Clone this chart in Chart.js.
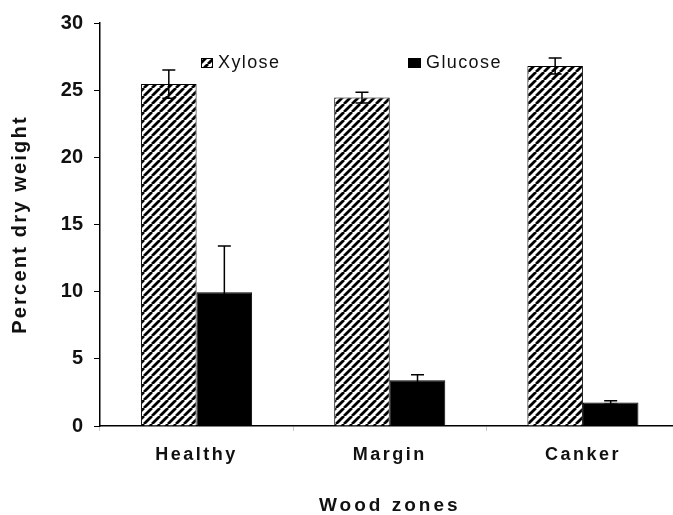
<!DOCTYPE html>
<html>
<head>
<meta charset="utf-8">
<script src="https://cdn.jsdelivr.net/npm/chart.js@4/dist/chart.umd.min.js"></script>
<style>
  html, body { margin: 0; padding: 0; background: #ffffff; }
  #wrap { width: 673px; height: 515px; overflow: hidden; position: relative; background: #fff; }
  canvas { display: block; }
</style>
</head>
<body>
<div id="wrap"><canvas id="c" width="690" height="515"></canvas></div>
<script>
// ---- data ----
const categories = ['Healthy', 'Margin', 'Canker'];
const seriesNames = ['Xylose', 'Glucose'];
const xylose = [25.45, 24.45, 26.8];
const glucose = [9.95, 3.4, 1.75];
const xyloseErr = [1.05, 0.4, 0.6];
const glucoseErr = [3.45, 0.42, 0.13];
const yTicks = [0, 5, 10, 15, 20, 25, 30];
const xTitle = 'Wood zones';
const yTitle = 'Percent dry weight';

const FONT = '"Liberation Sans", Arial, sans-serif';
const INK = '#111111';

// hatch pattern "/"
function makeHatch(p, lw) {
  const pc = document.createElement('canvas');
  pc.width = p; pc.height = p;
  const g = pc.getContext('2d');
  g.fillStyle = '#ffffff';
  g.fillRect(0, 0, p, p);
  g.strokeStyle = '#000000';
  g.lineWidth = lw;
  g.beginPath();
  for (let k = -1; k <= 1; k++) {
    g.moveTo(k * p, p);
    g.lineTo(k * p + p, 0);
  }
  g.stroke();
  return g.createPattern(pc, 'repeat');
}
const ctx0 = document.getElementById('c').getContext('2d');
const hatch = makeHatch(8, 2.8);

const errs = [xyloseErr, glucoseErr];

const spacingPlugin = {
  id: 'spacing',
  beforeDraw(chart) {
    const wrap = (obj, fn, sp) => {
      if (obj['_p_' + fn]) return;
      const orig = obj[fn];
      obj['_p_' + fn] = true;
      obj[fn] = function (...a) {
        const c = this.ctx;
        const prev = c.letterSpacing;
        c.letterSpacing = sp;
        const r = orig.apply(this, a);
        c.letterSpacing = prev;
        return r;
      };
    };
    wrap(chart.scales.x, 'drawLabels', '2.5px');
    wrap(chart.scales.x, 'drawTitle', '3px');
    wrap(chart.scales.y, 'drawTitle', '2.2px');
  }
};

const errorBarPlugin = {
  id: 'errorBars',
  afterDatasetsDraw(chart) {
    const ctx = chart.ctx;
    const ys = chart.scales.y;
    ctx.save();
    ctx.strokeStyle = '#000';
    ctx.lineWidth = 1.5;
    chart.data.datasets.forEach((ds, i) => {
      const meta = chart.getDatasetMeta(i);
      meta.data.forEach((bar, j) => {
        const v = ds.data[j], e = errs[i][j];
        const yT = ys.getPixelForValue(v + e);
        const yB = ys.getPixelForValue(v - e);
        const hw = 6.5;
        ctx.beginPath();
        ctx.moveTo(bar.x, yT); ctx.lineTo(bar.x, yB);
        ctx.moveTo(bar.x - hw, yT); ctx.lineTo(bar.x + hw, yT);
        ctx.moveTo(bar.x - hw, yB); ctx.lineTo(bar.x + hw, yB);
        ctx.stroke();
      });
    });
    ctx.restore();
  }
};

const legendPlugin = {
  id: 'insideLegend',
  afterDraw(chart) {
    const ctx = chart.ctx;
    ctx.save();
    ctx.letterSpacing = '1.4px';
    ctx.font = '18px ' + FONT;
    ctx.textBaseline = 'alphabetic';
    ctx.lineWidth = 1;
    ctx.strokeStyle = '#000';
    // Xylose
    ctx.fillStyle = hatch;
    ctx.fillRect(201, 58, 12, 10);
    ctx.strokeRect(201.5, 58.5, 11, 9);
    ctx.fillStyle = INK;
    ctx.fillText(chart.data.datasets[0].label, 218, 68);
    // Glucose
    ctx.fillStyle = '#000';
    ctx.fillRect(408, 58, 13, 10);
    ctx.fillStyle = INK;
    ctx.fillText(chart.data.datasets[1].label, 426, 68);
    ctx.restore();
  }
};

new Chart(ctx0, {
  type: 'bar',
  data: {
    labels: categories,
    datasets: [
      { label: seriesNames[0], data: xylose, backgroundColor: hatch, borderColor: '#000', borderWidth: 1 },
      { label: seriesNames[1], data: glucose, backgroundColor: '#000', borderColor: '#000', borderWidth: 1 }
    ]
  },
  options: {
    responsive: false,
    devicePixelRatio: 1,
    animation: false,
    categoryPercentage: 0.575,
    barPercentage: 1.0,
    layout: { padding: { left: 0, right: 10.5, top: 23, bottom: 0 } },
    plugins: { legend: { display: false }, tooltip: { enabled: false } },
    scales: {
      x: {
        afterFit(s) { s.height = 89; },
        grid: { display: true, drawOnChartArea: false, drawTicks: true, tickLength: 5, color: '#c8c8c8', offset: true },
        border: { display: true, color: '#000', width: 1.5 },
        ticks: { color: INK, padding: 13, font: { family: FONT, size: 18, weight: 'bold' } },
        title: { display: true, text: xTitle, color: INK, padding: { top: 0, bottom: 0 }, font: { family: FONT, size: 19, weight: 'bold', lineHeight: 1 } }
      },
      y: {
        min: 0, max: 30,
        afterFit(s) { s.width = 100; },
        afterBuildTicks(s) { s.ticks = yTicks.map(v => ({ value: v })); },
        grid: { display: true, drawOnChartArea: false, drawTicks: true, tickLength: 6, color: '#000', lineWidth: 1 },
        border: { display: true, color: '#000', width: 1.5 },
        ticks: { color: INK, padding: 11, font: { family: FONT, size: 20, weight: 'bold' } },
        title: { display: true, text: yTitle, color: INK, padding: { top: 10.5, bottom: 0 }, font: { family: FONT, size: 20, weight: 'bold', lineHeight: 1 } }
      }
    }
  },
  plugins: [spacingPlugin, errorBarPlugin, legendPlugin]
});
</script>
</body>
</html>
